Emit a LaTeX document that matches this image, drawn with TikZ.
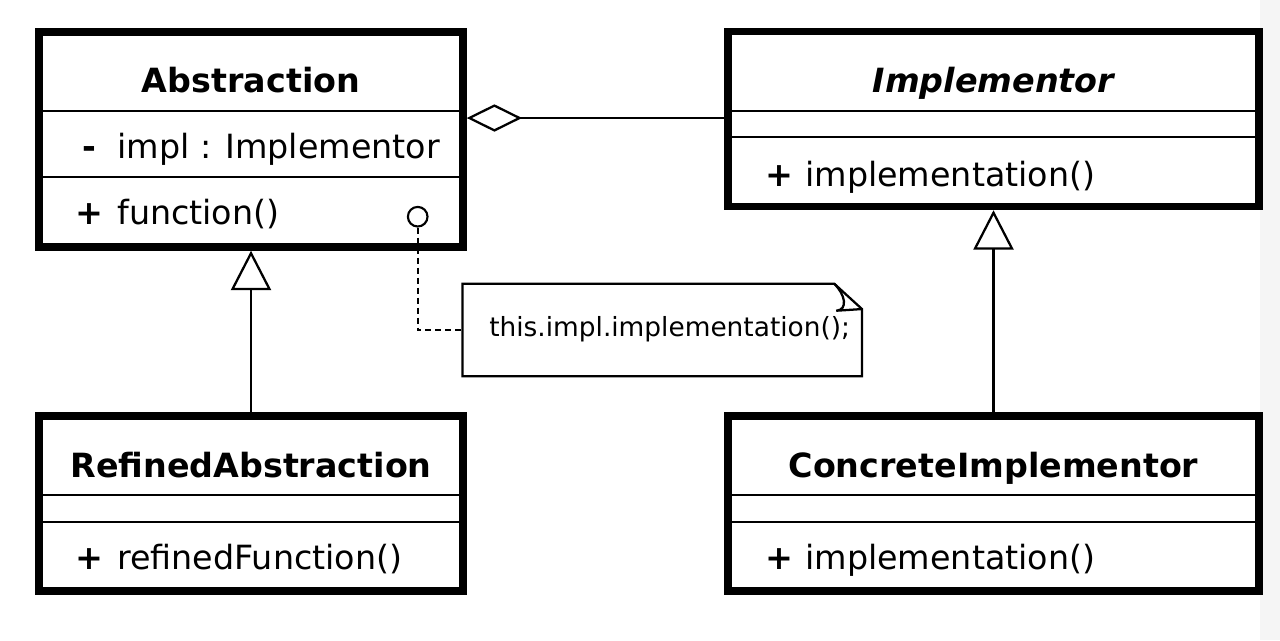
\documentclass[tikz,border=0pt]{standalone}
\usepackage{fontspec}
\setmainfont{DejaVu Sans}
\usetikzlibrary{arrows.meta,calc}
\begin{document}
\begin{tikzpicture}[x=0.75pt,y=-0.75pt,
  classbox/.style={draw, fill=white, line width=5.6pt, inner sep=0pt, rectangle},
  divider/.style={line width=1.6pt},
  conn/.style={line width=1.7pt},
  body/.style={font=\fontsize{25}{30}\selectfont, inner sep=0pt, anchor=base west},
  title/.style={font=\fontsize{25}{30}\selectfont\bfseries, inner sep=0pt, anchor=base},
  vis/.style={font=\fontsize{25}{30}\selectfont\bfseries, inner sep=0pt, anchor=base},
  notetext/.style={font=\fontsize{19.8}{24}\selectfont, inner sep=0pt, anchor=base west},
  gentip/.style={-{Triangle[open, length=29.5pt, width=30pt]}},
  aggtip/.style={-{Diamond[open, length=41.5pt, width=20.5pt]}}
]
\useasboundingbox (0,0) rectangle (1280,640);
\fill[black!4] (1260,0) rectangle (1280,640);

% class boxes
\node[classbox, minimum width=318pt, minimum height=161.25pt] (abs) at (251,139.5) {};
\node[classbox, minimum width=398.25pt, minimum height=131.25pt] (impl) at (993.5,119) {};
\node[classbox, minimum width=318pt, minimum height=131.25pt] (ref) at (251,503.5) {};
\node[classbox, minimum width=398.25pt, minimum height=131.25pt] (conc) at (993.5,503.5) {};

% dividers
\draw[divider] (39,110.7) -- (463,110.7);
\draw[divider] (39,176.7) -- (463,176.7);
\draw[divider] (728,110.7) -- (1259,110.7);
\draw[divider] (728,137.3) -- (1259,137.3);
\draw[divider] (39,495) -- (463,495);
\draw[divider] (39,522.3) -- (463,522.3);
\draw[divider] (728,495) -- (1259,495);
\draw[divider] (728,522.3) -- (1259,522.3);

% texts
\node[title] (absT) at (251,92) {Abstraction};
\node[vis] (absV1) at (89.5,158) {-};
\node[body] (absA1) at (117,158) {impl : Implementor};
\node[vis] (absV2) at (89.5,224) {+};
\node[body] (absM1) at (117,224) {function()};

\node[title, font=\fontsize{25}{30}\selectfont\bfseries\itshape] (implT) at (993.5,92) {Implementor};
\node[vis] (implV1) at (779,186) {+};
\node[body] (implM1) at (805,186) {implementation()};

\node[title] (refT) at (251,477) {RefinedAbstraction};
\node[vis] (refV1) at (89.5,569) {+};
\node[body] (refM1) at (117,569) {refinedFunction()};

\node[title] (concT) at (993.5,477) {ConcreteImplementor};
\node[vis] (concV1) at (779,569) {+};
\node[body] (concM1) at (805,569) {implementation()};

% aggregation
\coordinate (aggY) at (0,118);
\draw[conn, aggtip] (impl.west |- aggY) -- (abs.east |- aggY);

% generalizations
\draw[conn, gentip] (ref.north) -- (abs.south);
\draw[conn, gentip] (conc.north) -- (impl.south);

% note
\node[inner sep=0pt, minimum width=299.25pt, minimum height=69pt] (note) at (662.2,330) {};
\draw[conn, line join=miter] (note.north west) -- ($(note.north east)+(-27.7,0)$) -- ($(note.north east)+(0,25.3)$) -- (note.south east) -- (note.south west) -- cycle;
\draw[conn] ($(note.north east)+(-27.7,0)$) .. controls ($(note.north east)+(-16.7,11)$) and ($(note.north east)+(-13.7,26)$) .. ($(note.north east)+(-25.7,27)$) -- ($(note.north east)+(0,25.3)$);
\node[notetext] (noteT) at (489,336.5) {this.impl.implementation();};

% anchor circle and dashed link
\node[circle, draw, fill=white, line width=1.6pt, minimum size=14.7pt, inner sep=0pt] (dot) at (417.7,216.7) {};
\draw[conn, dash pattern=on 4.5pt off 3pt] (dot.south) |- (note.west);
\end{tikzpicture}
\end{document}
